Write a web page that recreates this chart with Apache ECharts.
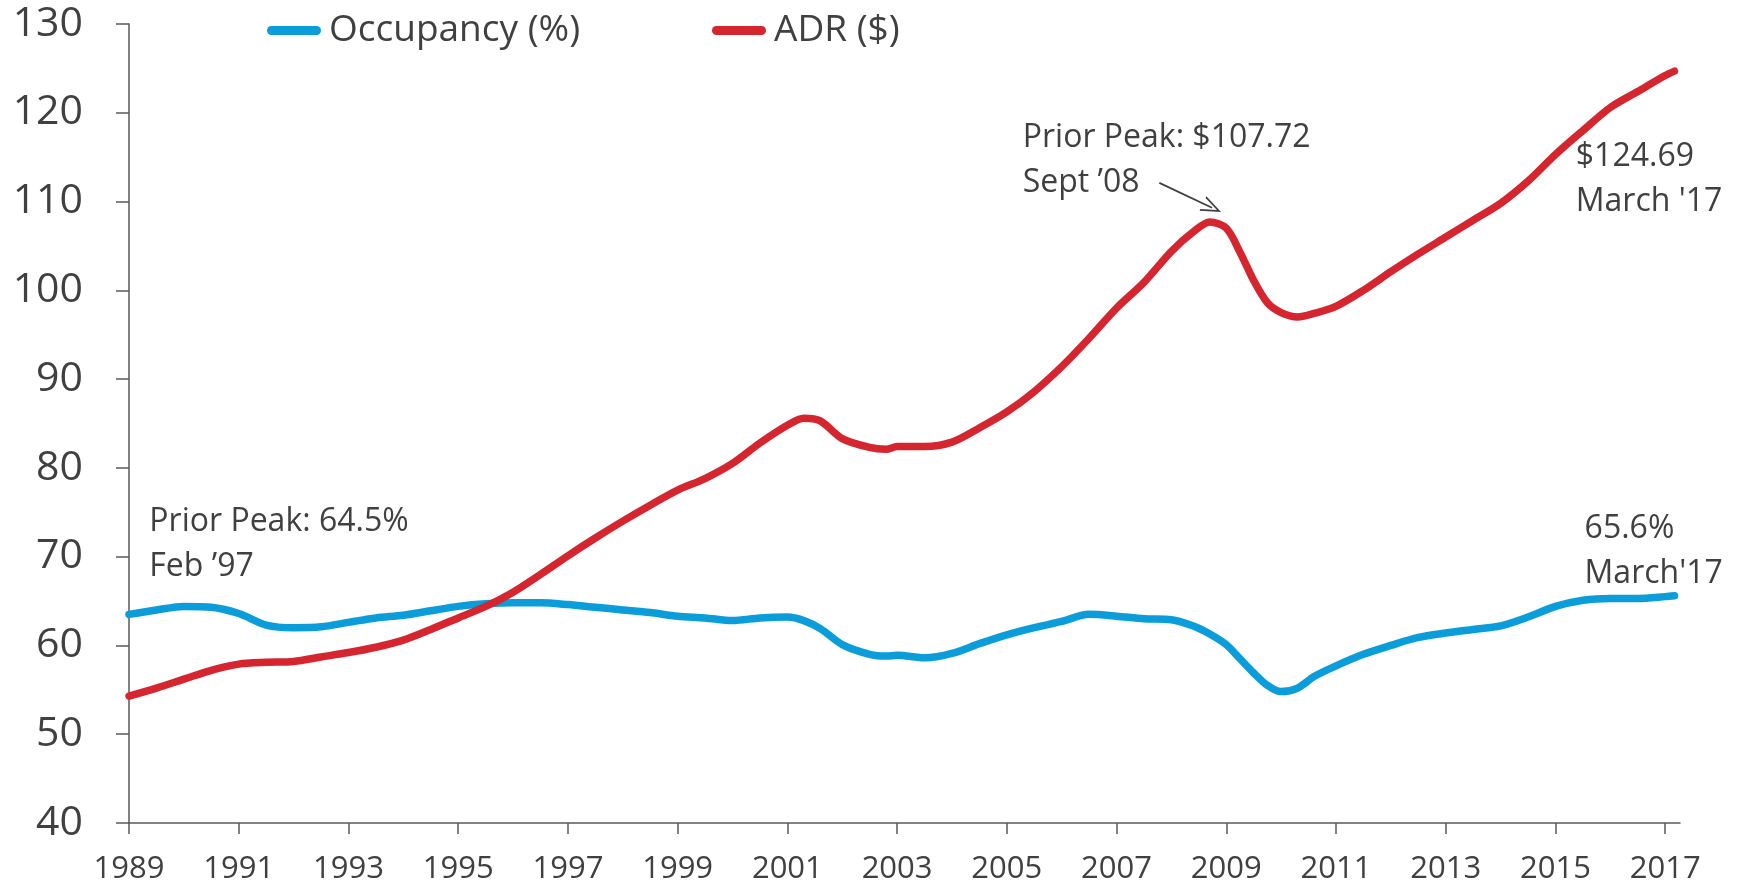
<!DOCTYPE html>
<html>
<head>
<meta charset="utf-8">
<script src="https://cdn.jsdelivr.net/npm/echarts@6/dist/echarts.min.js"></script>
<style>
html,body{margin:0;padding:0;background:#fff;}
#chart{width:1744px;height:889px;}
</style>
</head>
<body>
<div id="chart"></div>
<script>
// ---- data ----
const years = [1989, 1989.5, 1990, 1990.5, 1991, 1991.5, 1992, 1992.5, 1993, 1993.5, 1994, 1994.5,
  1995, 1995.5, 1996, 1996.5, 1997, 1997.5, 1998, 1998.5, 1999, 1999.5, 2000, 2000.5,
  2001, 2001.3, 2001.6, 2002, 2002.5, 2002.8, 2003, 2003.5, 2004, 2004.5, 2005, 2005.5,
  2006, 2006.5, 2007, 2007.5, 2008, 2008.4, 2008.7, 2009, 2009.25, 2009.5, 2009.75, 2010,
  2010.3, 2010.6, 2011, 2011.5, 2012, 2012.5, 2013, 2013.5, 2014, 2014.5, 2015, 2015.5,
  2016, 2016.5, 2017, 2017.17];

const occupancy = [63.5, 64.0, 64.4, 64.3, 63.6, 62.3, 62.0, 62.1, 62.6, 63.1, 63.4, 63.9,
  64.4, 64.7, 64.8, 64.8, 64.6, 64.3, 64.0, 63.7, 63.3, 63.1, 62.8, 63.1,
  63.2, 62.8, 61.9, 60.1, 59.0, 58.8, 58.9, 58.6, 59.1, 60.2, 61.2, 62.0,
  62.7, 63.5, 63.3, 63.0, 62.9, 62.2, 61.3, 60.1, 58.5, 56.9, 55.5, 54.8,
  55.2, 56.5, 57.7, 59.0, 60.0, 60.9, 61.4, 61.8, 62.2, 63.2, 64.4, 65.1,
  65.3, 65.3, 65.5, 65.6];

const adr = [54.3, 55.2, 56.2, 57.2, 57.9, 58.1, 58.2, 58.7, 59.2, 59.8, 60.6, 61.8,
  63.1, 64.4, 66.0, 68.0, 70.1, 72.1, 74.0, 75.8, 77.5, 78.8, 80.5, 82.8,
  84.8, 85.6, 85.3, 83.3, 82.3, 82.1, 82.4, 82.4, 82.9, 84.5, 86.3, 88.6,
  91.4, 94.6, 98.0, 100.9, 104.4, 106.6, 107.7, 107.0, 104.3, 101.1, 98.6, 97.5,
  97.0, 97.4, 98.2, 100.0, 102.1, 104.1, 106.0, 107.9, 109.8, 112.3, 115.3, 118.0,
  120.6, 122.4, 124.2, 124.69];

const xTickYears = [1989, 1991, 1993, 1995, 1997, 1999, 2001, 2003, 2005, 2007, 2009, 2011, 2013, 2015, 2017];
const seriesNames = ['Occupancy (%)', 'ADR ($)'];

// annotations: [text, year, value] (top-left anchor of the text block)
const annotations = [
  ['Prior Peak: 64.5%\nFeb \u201997', 1989.38, 76.4],
  ['Prior Peak: $107.72\nSept \u201908', 2005.30, 119.6],
  ['$124.69\nMarch \'17', 2015.38, 117.55],
  ['65.6%\nMarch\'17', 2015.54, 75.65]
];
const arrowFrom = [2007.78, 112.1];
const arrowTo = [2008.74, 109.3];

// ---- chart ----
const FONT = "'Open Sans', sans-serif";
const TXT = '#404040';
const AX = '#595959';
const BLUE = '#0A9DDA';
const RED = '#D5252F';
const pill = 'path://M5,0 L55,0 A5,5 0 0 1 55,10 L5,10 A5,5 0 0 1 5,0 Z';

const chart = echarts.init(document.getElementById('chart'), null, {renderer: 'canvas'});

const occData = years.map((y, i) => [y, occupancy[i]]);
const adrData = years.map((y, i) => [y, adr[i]]);

const legendBase = {
  top: 12, itemWidth: 60, itemHeight: 9, padding: 0, icon: pill,
  textStyle: {fontFamily: FONT, fontSize: 37, color: TXT},
  selectedMode: false
};

chart.setOption({
  animation: false,
  backgroundColor: '#fff',
  textStyle: {fontFamily: FONT},
  legend: [
    Object.assign({}, legendBase, {left: 267, data: [seriesNames[0]]}),
    Object.assign({}, legendBase, {left: 712, data: [seriesNames[1]]})
  ],
  grid: {left: 129, right: 64, top: 24, bottom: 66, containLabel: false},
  xAxis: {
    type: 'value', min: 1989, max: 2017.27,
    axisLine: {show: true, lineStyle: {color: AX, width: 1.5}},
    axisTick: {show: true, length: 11, lineStyle: {color: AX, width: 1.5}, customValues: xTickYears},
    axisLabel: {show: true, customValues: xTickYears, fontFamily: FONT, fontSize: 31, color: TXT, margin: 31,
      formatter: v => String(Math.round(v))},
    splitLine: {show: false}
  },
  yAxis: {
    type: 'value', min: 40, max: 130, interval: 10,
    axisLine: {show: true, lineStyle: {color: AX, width: 1.5}},
    axisTick: {show: true, length: 13, lineStyle: {color: AX, width: 1.5}},
    axisLabel: {fontFamily: FONT, fontSize: 41, color: TXT, margin: 46},
    splitLine: {show: false}
  },
  series: [
    {
      name: seriesNames[0], type: 'line', data: occData, showSymbol: false, symbol: 'none',
      smooth: 0.3, color: BLUE,
      lineStyle: {color: BLUE, width: 7.5, cap: 'round', join: 'round'},
      itemStyle: {color: BLUE}
    },
    {
      name: seriesNames[1], type: 'line', data: adrData, showSymbol: false, symbol: 'none',
      smooth: 0.3, color: RED,
      lineStyle: {color: RED, width: 7.5, cap: 'round', join: 'round'},
      itemStyle: {color: RED},
      markPoint: {
        silent: true, symbol: 'rect', symbolSize: 1,
        itemStyle: {color: 'rgba(0,0,0,0)'},
        label: {show: true, position: [0, 0], align: 'left', verticalAlign: 'top',
          fontFamily: FONT, fontSize: 32, lineHeight: 45, color: TXT,
          formatter: p => p.name},
        data: annotations.map(a => ({name: a[0], coord: [a[1], a[2]]}))
      },
      markLine: {
        silent: true, symbol: ['none', 'path://M0,14 L6,0 L12,14 L10.6,14 L6,3.2 L1.4,14 Z'],
        symbolSize: [16, 20],
        label: {show: false},
        lineStyle: {color: '#404040', width: 1.8, type: 'solid'},
        data: [[{coord: arrowFrom}, {coord: arrowTo}]]
      }
    }
  ]
});
</script>
</body>
</html>
